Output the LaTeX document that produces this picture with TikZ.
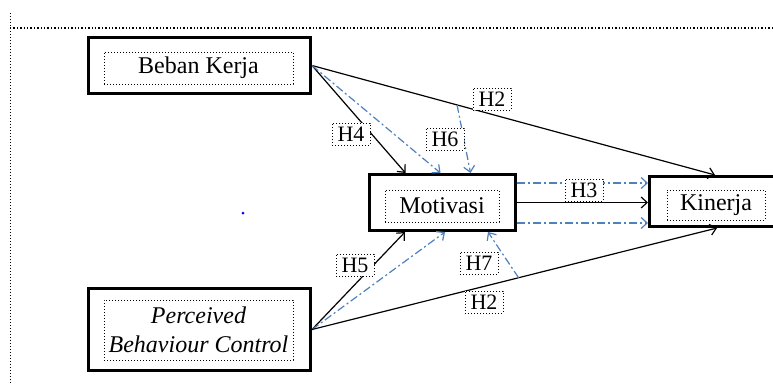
\documentclass[tikz,border=0pt]{standalone}
\usepackage{fontspec}
\setmainfont{Liberation Serif}
\usetikzlibrary{arrows.meta}
\definecolor{hblue}{RGB}{79,129,189}
\tikzset{
  outerbox/.style={draw,line width=3pt,inner sep=0pt},
  innerbox/.style={draw,dotted,line width=1pt,inner sep=0pt,align=center,font=\fontsize{24}{29}\selectfont},
  hlabel/.style={draw,dotted,line width=1pt,fill=white,inner sep=0pt,minimum width=38pt,minimum height=22pt,font=\fontsize{22}{22}\selectfont},
  direct/.style={line width=1.2pt,-{Straight Barb[length=6pt,width=11pt]}},
  indirect/.style={hblue,line width=1.2pt,dash pattern=on 8pt off 3pt on 2pt off 3pt,-{Straight Barb[length=6pt,width=11pt]}}
}
\begin{document}
\begin{tikzpicture}[x=1pt,y=-1pt]
\clip (0,0) rectangle (773,383);
\fill[white] (0,0) rectangle (773,383);
% frame
\draw[dotted,line width=1pt] (10,13) -- (10,383);
\draw[dotted,line width=1.4pt] (10,28) -- (773,28);
\fill[blue] (243,213) circle (1.5);
% variables
\node[outerbox,minimum width=222,minimum height=56] (bk) at (199.5,65.5) {};
\node[innerbox,minimum width=189,minimum height=32] (bkin) at (198.5,68) {Beban Kerja};
\node[outerbox,minimum width=146,minimum height=56] (mot) at (442.5,202.5) {};
\node[innerbox,minimum width=114,minimum height=32] (motin) at (442,206) {Motivasi};
\node[outerbox,minimum width=141,minimum height=50] (kin) at (720,201.5) {};
\node[innerbox,minimum width=98,minimum height=30] (kinin) at (716,205) {Kinerja};
\node[outerbox,minimum width=222,minimum height=82] (pbc) at (199.5,329.5) {};
\node[innerbox,minimum width=189,minimum height=60] (pbcin) at (198.5,330) {\textit{Perceived}\\\textit{Behaviour Control}};
\coordinate (m1) at ([yshift=19.5]mot.east);
\coordinate (m2) at ([yshift=-20.5]mot.east);
% paths
\draw[direct] (bk.east) -- ([xshift=-5]kin.north) coordinate[pos=0.36] (h6s);
\draw[direct] (bk.east) -- ([xshift=-37]mot.north);
\draw[indirect] (bk.east) -- ([xshift=-2]mot.north);
\draw[indirect] (h6s) -- ([xshift=28]mot.north);
\draw[direct] (mot.east) -- (mot.east -| kin.west);
\draw[indirect] (m1) -- (m1 -| kin.west);
\draw[indirect] (m2) -- (m2 -| kin.west);
\draw[direct] (pbc.east) -- ([xshift=-37.5]mot.south);
\draw[indirect] (pbc.east) -- ([xshift=2.5]mot.south);
\draw[direct] (pbc.east) -- ([xshift=-3]kin.south) coordinate[pos=0.51] (h7s);
\draw[indirect] (h7s) -- ([xshift=45.5]mot.south);
% hypotheses
\node[hlabel] (h2a) at (492,99) {H2};
\node[hlabel] (h4) at (351,134) {H4};
\node[hlabel] (h6) at (445,139) {H6};
\node[hlabel] (h3) at (584,190) {H3};
\node[hlabel] (h5) at (355,265) {H5};
\node[hlabel] (h7) at (479,263) {H7};
\node[hlabel] (h2b) at (484,302) {H2};
\end{tikzpicture}
\end{document}
